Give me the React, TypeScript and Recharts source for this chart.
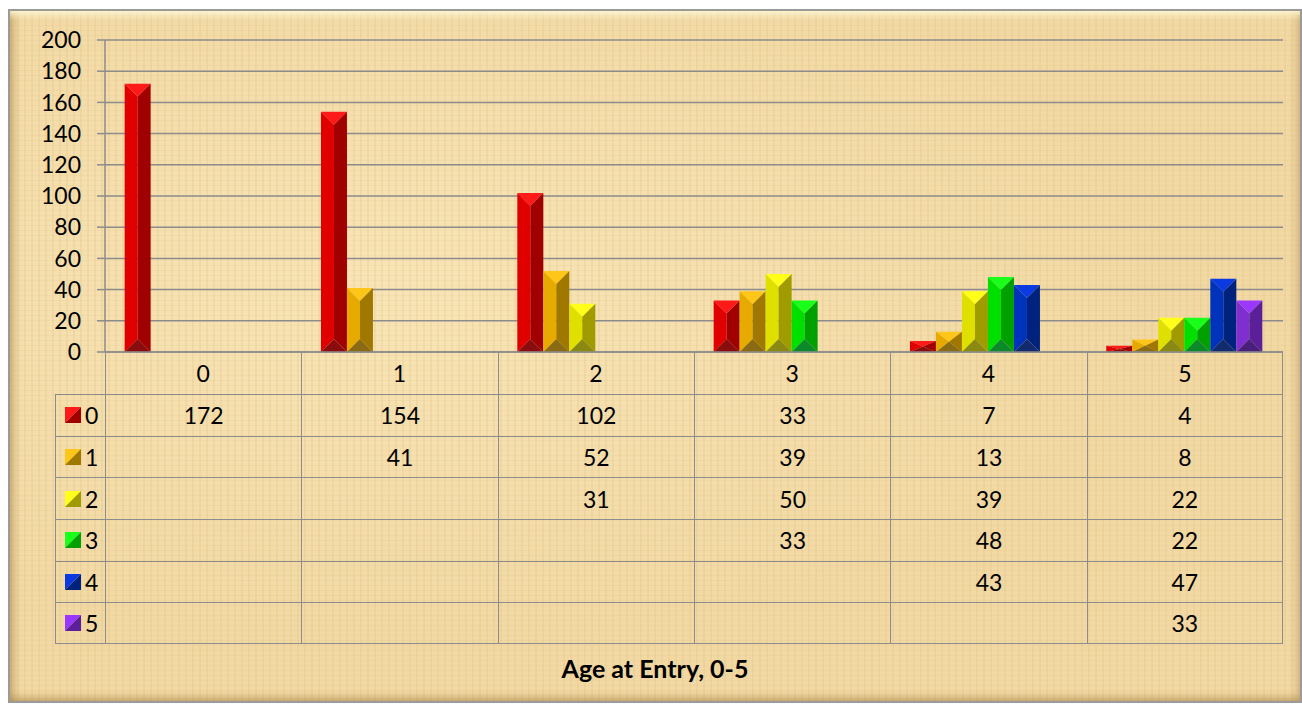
import { BarChart, Bar, XAxis, YAxis, CartesianGrid } from 'recharts';

const ages = ['0', '1', '2', '3', '4', '5'];
const entry0 = [172, 154, 102, 33, 7, 4];
const entry1 = [null, 41, 52, 39, 13, 8];
const entry2 = [null, null, 31, 50, 39, 22];
const entry3 = [null, null, null, 33, 48, 22];
const entry4 = [null, null, null, null, 43, 47];
const entry5 = [null, null, null, null, null, 33];
const yTicks = [0, 20, 40, 60, 80, 100, 120, 140, 160, 180, 200];

const seriesNames = ['0', '1', '2', '3', '4', '5'];
const seriesValues = [entry0, entry1, entry2, entry3, entry4, entry5];

// top, left face, right face, bottom
const shades = [
  ['#ff1a1a', '#e00000', '#a00000', '#8a0c0c'],
  ['#ffc61a', '#e6aa00', '#a07800', '#8a6a12'],
  ['#ffff1a', '#e0e000', '#a09c00', '#8a8a12'],
  ['#1aff1a', '#00e000', '#00a000', '#0c8a2a'],
  ['#0a3ae0', '#0033bb', '#00227f', '#122a6e'],
  ['#9a38ff', '#7f2fd0', '#5a1f99', '#4a1f7c'],
];

const data = ages.map((age, i) => {
  const row: Record<string, string | number | null> = { age };
  seriesValues.forEach((vals, s) => {
    row[`s${s}`] = vals[i];
  });
  return row;
});

const FONT = 'Lato, "Open Sans", sans-serif';
const GRID = '#8c8c8c';
const FS = 23;

function bevelShape(idx: number) {
  return (props: any) => {
    const { x, y, width: w, height: h } = props;
    if (h == null || h <= 0) return <g />;
    const [top, left, right, bottom] = shades[idx];
    const b = Math.min(w / 2, h / 2);
    const mx = x + w / 2;
    return (
      <g>
        <polygon points={`${x},${y} ${x + w},${y} ${mx},${y + b}`} fill={top} />
        <polygon points={`${x},${y} ${mx},${y + b} ${mx},${y + h - b} ${x},${y + h}`} fill={left} />
        <polygon points={`${x + w},${y} ${mx},${y + b} ${mx},${y + h - b} ${x + w},${y + h}`} fill={right} />
        <polygon points={`${x},${y + h} ${mx},${y + h - b} ${x + w},${y + h}`} fill={bottom} />
      </g>
    );
  };
}

function AgeTick(props: any) {
  const { x, y, payload } = props;
  return (
    <text x={x} y={y + 21} textAnchor="middle" dominantBaseline="central" fontFamily={FONT} fontSize={FS} fill="#000">
      {payload.value}
    </text>
  );
}

function LegendKey({ idx }: { idx: number }) {
  const [top, , right] = shades[idx];
  return (
    <svg width={16} height={16} style={{ display: 'block' }}>
      <polygon points="0,0 16,0 0,16" fill={top} />
      <polygon points="16,0 16,16 0,16" fill={right} />
    </svg>
  );
}

const border = `1.5px solid ${GRID}`;
const colW = 1178 / 6;
const rowH = 41.67;

export default function App() {
  return (
    <div
      style={{
        position: 'absolute',
        left: 8,
        top: 9,
        width: 1294,
        height: 694,
        boxSizing: 'border-box',
        border: '2px solid #9a9a9a',
        backgroundColor: '#f2d9a4',
        backgroundImage:
          'repeating-linear-gradient(90deg, rgba(190,150,80,0.1) 0 2px, rgba(0,0,0,0) 2px 7px),' +
          'repeating-linear-gradient(0deg, rgba(190,150,80,0.07) 0 1px, rgba(0,0,0,0) 1px 5px),' +
          'radial-gradient(ellipse at 30% 40%, rgba(255,240,200,0.5), rgba(0,0,0,0) 60%)',
        boxShadow:
          'inset 0 9px 7px -5px rgba(255,250,215,0.9), inset 9px 0 7px -5px rgba(150,115,55,0.45),' +
          'inset 0 -9px 7px -5px rgba(150,115,55,0.45), inset -9px 0 7px -5px rgba(150,115,55,0.3)',
        fontFamily: FONT,
      }}
    >
      <div style={{ position: 'absolute', left: 0, top: 0 }}>
        <BarChart
          width={1290}
          height={690}
          data={data}
          margin={{ top: 29, right: 17, left: 0, bottom: 307 }}
          barCategoryGap="10%"
          barGap={0}
        >
          <CartesianGrid vertical={false} stroke={GRID} strokeWidth={1.5} />
          <XAxis
            dataKey="age"
            height={42}
            tickLine={false}
            tickSize={0}
            tickMargin={0}
            axisLine={{ stroke: GRID, strokeWidth: 1.5 }}
            tick={<AgeTick />}
            interval={0}
          />
          <YAxis
            width={95}
            domain={[0, 200]}
            ticks={yTicks}
            interval={0}
            tickSize={8}
            tickMargin={16}
            tickLine={{ stroke: GRID, strokeWidth: 1.5 }}
            axisLine={{ stroke: GRID, strokeWidth: 1.5 }}
            tick={{ fill: '#000', fontSize: FS, fontFamily: FONT }}
          />
          {seriesNames.map((name, i) => (
            <Bar key={name} dataKey={`s${i}`} name={name} shape={bevelShape(i)} isAnimationActive={false} />
          ))}
        </BarChart>
      </div>

      {/* data table under the plot */}
      <div style={{ position: 'absolute', left: 45, top: 341, width: 50 + 1178 }}>
        <div style={{ display: 'flex', height: 42 }}>
          <div style={{ width: 50 }} />
          {ages.map((a, i) => (
            <div
              key={a}
              style={{
                width: colW,
                boxSizing: 'border-box',
                borderLeft: border,
                borderRight: i === ages.length - 1 ? border : 'none',
              }}
            />
          ))}
        </div>
        {seriesNames.map((name, s) => (
          <div
            key={name}
            style={{
              display: 'flex',
              height: rowH,
              boxSizing: 'border-box',
              borderTop: border,
              borderBottom: s === seriesNames.length - 1 ? border : 'none',
            }}
          >
            <div
              style={{
                width: 50,
                boxSizing: 'border-box',
                borderLeft: border,
                display: 'flex',
                alignItems: 'center',
                paddingLeft: 9,
                gap: 4,
                fontSize: FS,
              }}
            >
              <LegendKey idx={s} />
              <span>{name}</span>
            </div>
            {ages.map((a, i) => (
              <div
                key={a}
                style={{
                  width: colW,
                  boxSizing: 'border-box',
                  borderLeft: border,
                  borderRight: i === ages.length - 1 ? border : 'none',
                  display: 'flex',
                  alignItems: 'center',
                  justifyContent: 'center',
                  fontSize: FS,
                }}
              >
                {seriesValues[s][i] ?? ''}
              </div>
            ))}
          </div>
        ))}
      </div>

      <div
        style={{
          position: 'absolute',
          left: 0,
          top: 631,
          width: 1290,
          height: 52,
          lineHeight: '52px',
          textAlign: 'center',
          fontWeight: 700,
          fontSize: 25,
        }}
      >
        Age at Entry, 0-5
      </div>
    </div>
  );
}
